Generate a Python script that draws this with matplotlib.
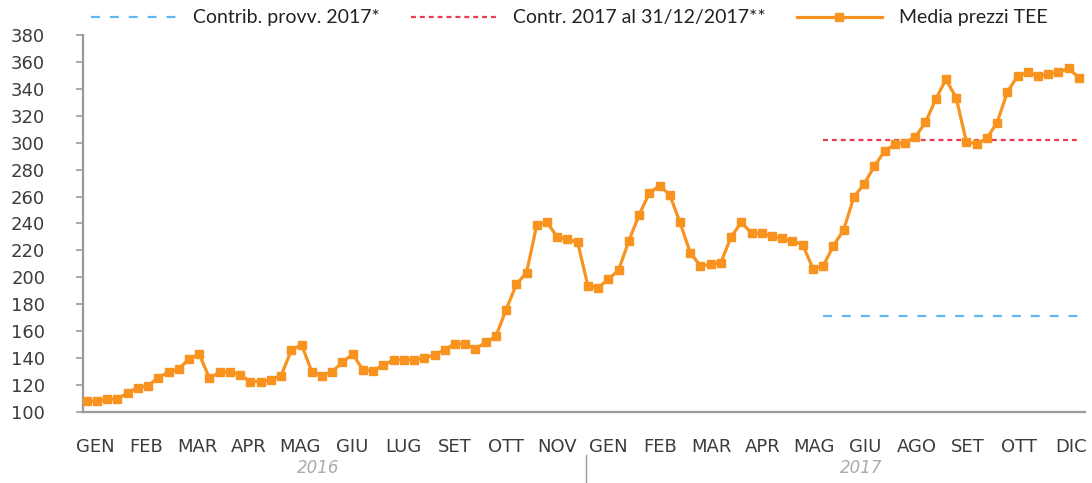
import matplotlib
matplotlib.use("Agg")
import matplotlib.pyplot as plt
import numpy as np

plt.rcParams["font.family"] = ["DejaVu Sans"]

# ---- data ----
prices = [108.2, 108, 109.5, 109.5, 114.4, 118.1, 119.6, 125.6, 129.6, 132,
          139.5, 143, 125, 129.6, 129.6, 127.6, 122.6, 122.6, 123.9, 127,
          145.8, 150, 130, 127, 130, 137, 143, 131.3, 130.8, 134.6,
          138.8, 138.8, 138.8, 140, 142.5, 146.3, 150.7, 150.7, 147, 151.7,
          156.2, 176, 194.8, 203.5, 239, 240.8, 230, 228.4, 225.9, 193.5,
          192.3, 198.5, 205.5, 227, 246.3, 262.5, 268.1, 261.2, 240.8, 218.4,
          208.4, 209.7, 211, 230, 240.8, 232.8, 232.8, 230.4, 228.9, 227.1,
          224.1, 206.5, 208.4, 223.4, 235.3, 259.5, 269.4, 282.3, 293.8, 298.7,
          300, 304.2, 315, 332.2, 347, 333.4, 300.7, 299, 303.2, 314.8,
          337.4, 349.5, 352.2, 349.5, 351, 352.2, 355.2, 348.2]
contrib_provv = 171.3
contrib_def = 302.0
ref_start, ref_end = 72, 97          # period (weeks) covered by the reference lines
month_labels = ["GEN", "FEB", "MAR", "APR", "MAG", "GIU", "LUG", "SET", "OTT", "NOV",
                "GEN", "FEB", "MAR", "APR", "MAG", "GIU", "AGO", "SET", "OTT", "DIC"]
years = ["2016", "2017"]
y_ticks = list(range(100, 381, 20))

ORANGE = "#F7931E"
BLUE = "#5DB9EE"
RED = "#EC3A4E"
TXT = "#3C3C3C"
AXC = "#9A9A9A"

fig = plt.figure(figsize=(10.92, 4.83), dpi=100)
ax = fig.add_axes([0.0757, 0.147, 0.9179, 0.7807])

x = np.arange(len(prices))
ax.plot(x, prices, color=ORANGE, lw=2.3, marker="s", markersize=6,
        markerfacecolor=ORANGE, markeredgecolor=ORANGE, label="Media prezzi TEE", zorder=3)
ax.plot([ref_start, ref_end], [contrib_provv] * 2, color=BLUE, lw=1.6,
        dashes=(4.0, 4.5), label="Contrib. provv. 2017*", zorder=2)
ax.plot([ref_start, ref_end], [contrib_def] * 2, color=RED, lw=1.6,
        dashes=(2.2, 1.8), label="Contr. 2017 al 31/12/2017**", zorder=2)

ax.set_xlim(-0.4, len(prices) - 0.4)
ax.set_ylim(100, 380)
ax.set_yticks(y_ticks)
ax.tick_params(axis="y", direction="out", length=5, width=1.2, color=AXC,
               pad=22, labelsize=13, labelcolor=TXT)
label_pos = np.linspace(0.8, 96.2, len(month_labels))
ax.set_xticks(label_pos)
ax.set_xticklabels(month_labels)
ax.tick_params(axis="x", length=0, pad=19, labelsize=13, labelcolor=TXT)

for s in ["top", "right"]:
    ax.spines[s].set_visible(False)
for s in ["left", "bottom"]:
    ax.spines[s].set_color(AXC)
    ax.spines[s].set_linewidth(1.6)

# year labels + divider
fig.text(0.2917, 0.031, years[0], ha="center", va="center", fontsize=12,
         color="#ABABAB", style="italic")
fig.text(0.789, 0.031, years[1], ha="center", va="center", fontsize=12,
         color="#ABABAB", style="italic")
fig.add_artist(plt.Line2D([0.537, 0.537], [0.0, 0.058], color="#9A9A9A", lw=1.0))

# legend
h, l = ax.get_legend_handles_labels()
order = [1, 2, 0]
leg = fig.legend([h[i] for i in order], [l[i] for i in order], loc="center",
                 bbox_to_anchor=(0.521, 0.963), ncol=3, frameon=False,
                 handlelength=4.4, handletextpad=0.85, columnspacing=1.6,
                 prop={"family": "Lato", "size": 14})
for t in leg.get_texts():
    t.set_color("#222222")

fig.savefig("out.png", dpi=100)
